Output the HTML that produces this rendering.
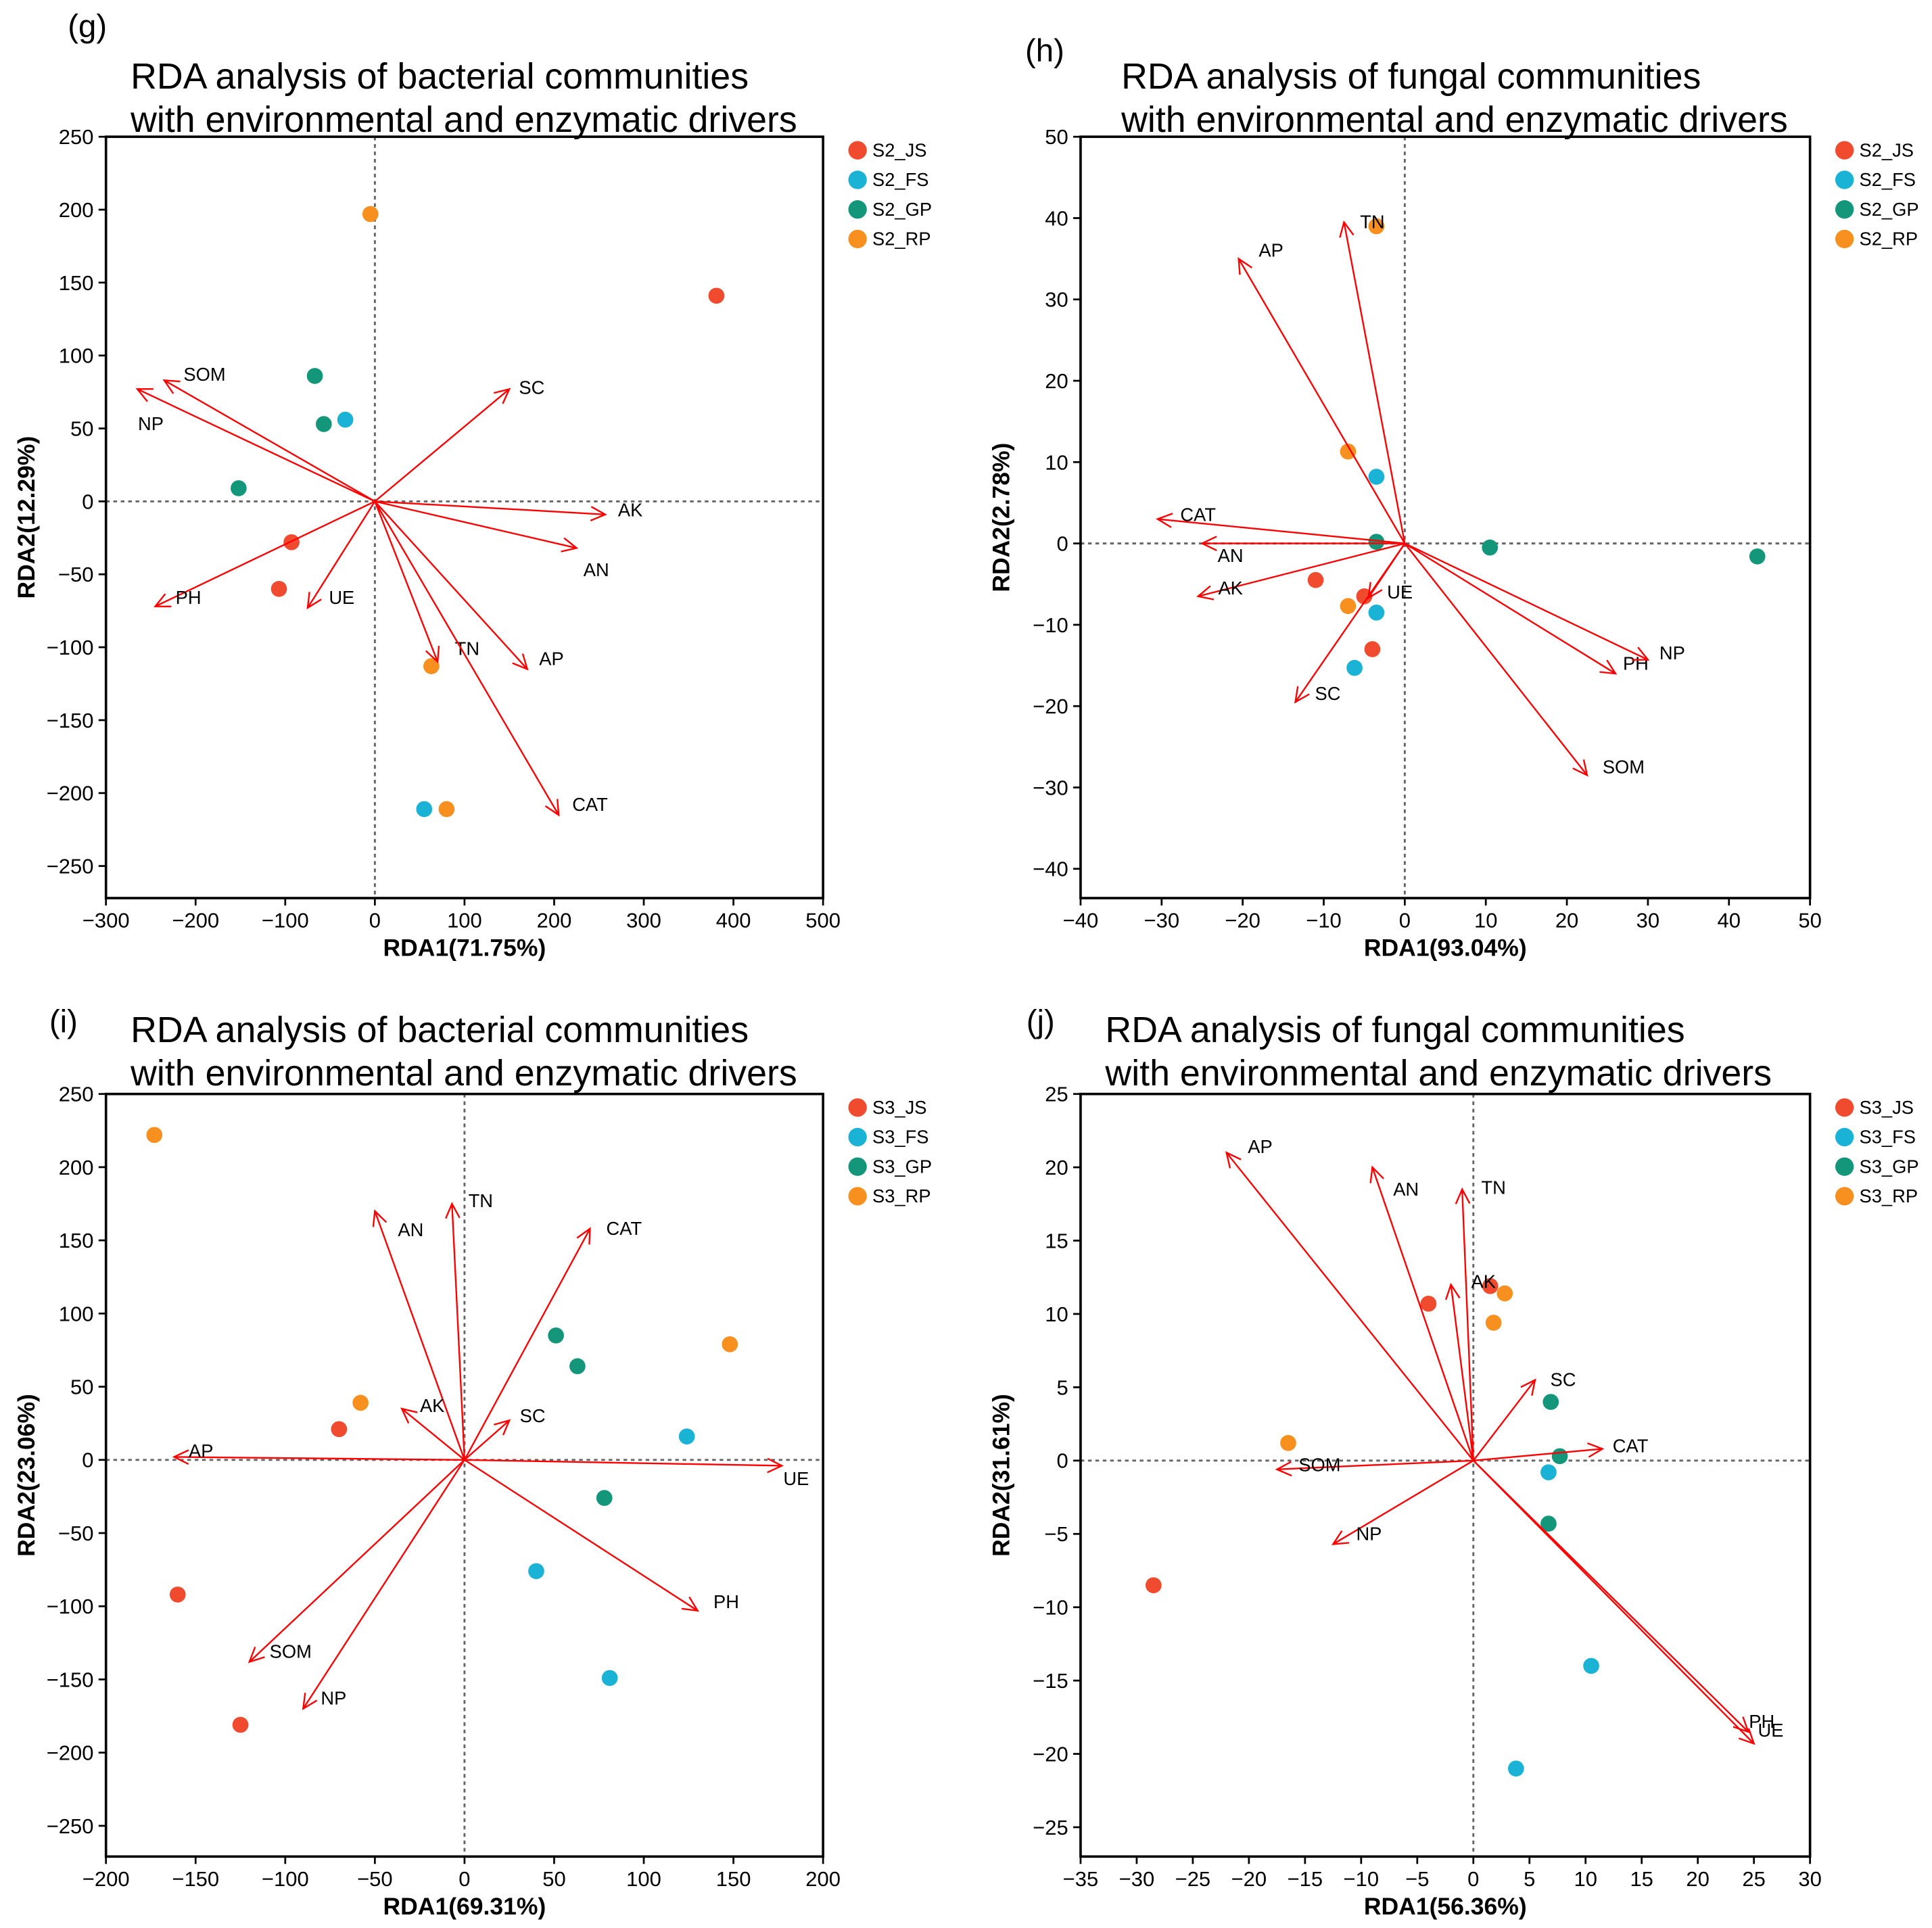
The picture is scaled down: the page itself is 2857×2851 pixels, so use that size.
<!DOCTYPE html>
<html><head><meta charset="utf-8"><style>
html,body{margin:0;padding:0;background:#fff}
svg{display:block}
text{font-family:"Liberation Sans",Arial,sans-serif}
</style></head><body>
<svg id="fig" width="2857" height="2851" viewBox="0 0 1568 1565" preserveAspectRatio="none" xmlns="http://www.w3.org/2000/svg"></svg>
<script>
const NS="http://www.w3.org/2000/svg";
const COLORS=["#f04a2f","#1ab3d6","#13967a","#f7901e"];
// ---- Panel g ----
const gGroups=["S2_JS","S2_FS","S2_GP","S2_RP"];
const gPtsX=[381,-93,-107, -33,55, -67,-57,-152, -5,63,80];
const gPtsY=[141,-28,-60, 56,-211, 86,53,9, 197,-113,-211];
const gPtsG=[0,0,0,1,1,2,2,2,3,3,3];
const gVarNames=["SOM","NP","SC","AK","AN","AP","TN","CAT","UE","PH"];
const gVarX=[-235,-265,150,257,225,170,70,205,-75,-245];
const gVarY=[83,77,77,-9,-32,-115,-110,-215,-73,-72];
const gLabX=[-190,-250,175,285,247,197,103,240,-37,-208];
const gLabY=[87,53,78,-6,-47,-108,-101,-208,-66,-66];
const gXTicks=[-300,-200,-100,0,100,200,300,400,500];
const gYTicks=[250,200,150,100,50,0,-50,-100,-150,-200,-250];
// ---- Panel h ----
const hGroups=["S2_JS","S2_FS","S2_GP","S2_RP"];
const hPtsX=[-11,-5,-4, -3.5,-3.5,-6.2, -3.5,10.5,43.5, -3.5,-7,-7];
const hPtsY=[-4.5,-6.5,-13, 8.2,-8.5,-15.3, 0.2,-0.5,-1.6, 39,11.3,-7.7];
const hPtsG=[0,0,0,1,1,1,2,2,2,3,3,3];
const hVarNames=["AP","TN","CAT","AN","AK","UE","SC","PH","NP","SOM"];
const hVarX=[-20.5,-7.5,-30.5,-25,-25.5,-4.5,-13.5,26,30,22.5];
const hVarY=[35,39.5,3,0,-6.5,-6.7,-19.5,-16,-14.3,-28.5];
const hLabX=[-16.5,-4,-25.5,-21.5,-21.5,-0.6,-9.5,28.5,33,27];
const hLabY=[36,39.5,3.5,-1.5,-5.5,-6,-18.5,-14.8,-13.5,-27.5];
const hXTicks=[-40,-30,-20,-10,0,10,20,30,40,50];
const hYTicks=[50,40,30,20,10,0,-10,-20,-30,-40];
// ---- Panel i ----
const iGroups=["S3_JS","S3_FS","S3_GP","S3_RP"];
const iPtsX=[-70,-160,-125, 124,40,81, 51,63,78, -173,148,-58];
const iPtsY=[21,-92,-181, 16,-76,-149, 85,64,-26, 222,79,39];
const iPtsG=[0,0,0,1,1,1,2,2,2,3,3,3];
const iVarNames=["AN","TN","CAT","AK","SC","AP","UE","PH","SOM","NP"];
const iVarX=[-50,-7,70,-35,25,-162,177,130,-120,-90];
const iVarY=[170,175,158,35,27,2,-4,-103,-138,-170];
const iLabX=[-30,9,89,-18,38,-147,185,146,-97,-73];
const iLabY=[157,177,158,37,30,6,-13,-97,-131,-163];
const iXTicks=[-200,-150,-100,-50,0,50,100,150,200];
const iYTicks=[250,200,150,100,50,0,-50,-100,-150,-200,-250];
// ---- Panel j ----
const jGroups=["S3_JS","S3_FS","S3_GP","S3_RP"];
const jPtsX=[-4,1.5,-28.5, 6.7,10.5,3.8, 6.9,7.7,6.7, -16.5,2.8,1.8];
const jPtsY=[10.7,11.9,-8.5, -0.8,-14,-21, 4,0.3,-4.3, 1.2,11.4,9.4];
const jPtsG=[0,0,0,1,1,1,2,2,2,3,3,3];
const jVarNames=["AP","AN","TN","AK","SC","CAT","SOM","NP","PH","UE"];
const jVarX=[-22,-9,-1,-2,5.5,11.5,-17.5,-12.5,24.5,25];
const jVarY=[21,20,18.5,12,5.5,0.8,-0.6,-5.7,-18.5,-19.3];
const jLabX=[-19,-6,1.8,0.9,8,14,-13.7,-9.3,25.7,26.5];
const jLabY=[21.4,18.5,18.6,12.2,5.5,1,-0.3,-5,-17.8,-18.4];
const jXTicks=[-35,-30,-25,-20,-15,-10,-5,0,5,10,15,20,25,30];
const jYTicks=[25,20,15,10,5,0,-5,-10,-15,-20,-25];

const svg=document.getElementById('fig');
function mk(tag,attrs,parent,txt){const e=document.createElementNS(NS,tag);for(const k in attrs)e.setAttribute(k,attrs[k]);if(txt!==undefined)e.textContent=txt;(parent||svg).appendChild(e);return e;}

function panel(P){
  const g=mk('g',{});
  
  
  const sx=v=>P.x0+(v-P.xmin)*(P.x1-P.x0)/(P.xmax-P.xmin);
  const sy=v=>P.y0+(P.ymax-v)*(P.y1-P.y0)/(P.ymax-P.ymin);
  let t=mk('text',{x:P.tagX,y:P.tagY,'font-size':26},g,'('+P.id+')');
  
  
  t=mk('text',{x:P.titleX,y:P.titleY,'font-size':29.5},g,P.title1);
  
  
  t=mk('text',{x:P.titleX,y:P.titleY+35,'font-size':29.5},g,P.title2);
  
  
  let l=mk('line',{x1:sx(0),x2:sx(0),y1:P.y0,y2:P.y1,stroke:'#666','stroke-width':1.6,'stroke-dasharray':'3,3'},g);
  
  
  l=mk('line',{x1:P.x0,x2:P.x1,y1:sy(0),y2:sy(0),stroke:'#666','stroke-width':1.6,'stroke-dasharray':'3,3'},g);
  
  
  const fr=mk('rect',{x:P.x0,y:P.y0,width:P.x1-P.x0,height:P.y1-P.y0,fill:'none',stroke:'#000','stroke-width':2},g);
  
  
  P.xt.forEach(v=>{
    const x=sx(v);
    mk('line',{x1:x,x2:x,y1:P.y1,y2:P.y1+6,stroke:'#000','stroke-width':1.5},g);
    const tx=mk('text',{x:x,y:P.y1+24,'font-size':17,'text-anchor':'middle'},g,v<0?'\u2212'+(-v):String(v));
    
    
  });
  P.yt.forEach(v=>{
    const y=sy(v);
    mk('line',{x1:P.x0-6,x2:P.x0,y1:y,y2:y,stroke:'#000','stroke-width':1.5},g);
    const tx=mk('text',{x:P.x0-10,y:y+6,'font-size':17,'text-anchor':'end'},g,v<0?'\u2212'+(-v):String(v));
    
    
  });
  t=mk('text',{x:(P.x0+P.x1)/2,y:P.y1+47,'font-size':19.5,'font-weight':'bold','text-anchor':'middle'},g,P.xlab);
  
  
  const cy=(P.y0+P.y1)/2;
  t=mk('text',{x:P.x0-58,y:cy,'font-size':19.5,'font-weight':'bold','text-anchor':'middle',transform:`rotate(-90 ${P.x0-58} ${cy})`},g,P.ylab);
  
  
  P.px.forEach((v,i)=>{
    const c=mk('circle',{cx:sx(v),cy:sy(P.py[i]),r:6.5,fill:COLORS[P.pg[i]]},g);
    
    
  });
  P.vn.forEach((n,i)=>{
    const ax=sx(0),ay=sy(0),bx=sx(P.vx[i]),by=sy(P.vy[i]);
    const ang=Math.atan2(by-ay,bx-ax);
    const ag=mk('g',{stroke:'#f00','stroke-width':1.3,fill:'none'},g);
    
    
    mk('line',{x1:ax,y1:ay,x2:bx,y2:by},ag);
    const L=13,a=0.45;
    mk('polyline',{points:`${bx-L*Math.cos(ang-a)},${by-L*Math.sin(ang-a)} ${bx},${by} ${bx-L*Math.cos(ang+a)},${by-L*Math.sin(ang+a)}`},ag);
    const lt=mk('text',{x:sx(P.lx[i]),y:sy(P.ly[i])+5,'font-size':15,'text-anchor':'middle',fill:'#000'},g,n);
    
    
  });
  P.groups.forEach((n,i)=>{
    const y=P.legY+i*24;
    const lg=mk('g',{},g);
    
    
    mk('circle',{cx:P.legX,cy:y,r:7.5,fill:COLORS[i]},lg);
    mk('text',{x:P.legX+12,y:y+5,'font-size':15},lg,n);
  });
}
const T2="with environmental and enzymatic drivers";
panel({id:'g',x0:86,x1:668,y0:111,y1:729,xmin:-300,xmax:500,ymax:250,ymin:-272,
  tagX:55,tagY:30,titleX:106,titleY:72,title1:"RDA analysis of bacterial communities",title2:T2,
  xlab:"RDA1(71.75%)",ylab:"RDA2(12.29%)",xt:gXTicks,yt:gYTicks,groups:gGroups,
  px:gPtsX,py:gPtsY,pg:gPtsG,vn:gVarNames,vx:gVarX,vy:gVarY,lx:gLabX,ly:gLabY,legX:696,legY:122});
panel({id:'h',x0:877,x1:1469,y0:111,y1:729,xmin:-40,xmax:50,ymax:50,ymin:-43.6,
  tagX:832,tagY:50,titleX:910,titleY:72,title1:"RDA analysis of fungal communities",title2:T2,
  xlab:"RDA1(93.04%)",ylab:"RDA2(2.78%)",xt:hXTicks,yt:hYTicks,groups:hGroups,
  px:hPtsX,py:hPtsY,pg:hPtsG,vn:hVarNames,vx:hVarX,vy:hVarY,lx:hLabX,ly:hLabY,legX:1497,legY:122});
panel({id:'i',x0:86,x1:668,y0:888,y1:1507,xmin:-200,xmax:200,ymax:250,ymin:-271,
  tagX:40,tagY:838,titleX:106,titleY:846,title1:"RDA analysis of bacterial communities",title2:T2,
  xlab:"RDA1(69.31%)",ylab:"RDA2(23.06%)",xt:iXTicks,yt:iYTicks,groups:iGroups,
  px:iPtsX,py:iPtsY,pg:iPtsG,vn:iVarNames,vx:iVarX,vy:iVarY,lx:iLabX,ly:iLabY,legX:696,legY:899});
panel({id:'j',x0:877,x1:1469,y0:888,y1:1507,xmin:-35,xmax:30,ymax:25,ymin:-27,
  tagX:833,tagY:838,titleX:897,titleY:846,title1:"RDA analysis of fungal communities",title2:T2,
  xlab:"RDA1(56.36%)",ylab:"RDA2(31.61%)",xt:jXTicks,yt:jYTicks,groups:jGroups,
  px:jPtsX,py:jPtsY,pg:jPtsG,vn:jVarNames,vx:jVarX,vy:jVarY,lx:jLabX,ly:jLabY,legX:1497,legY:899});
</script>
</body></html>
